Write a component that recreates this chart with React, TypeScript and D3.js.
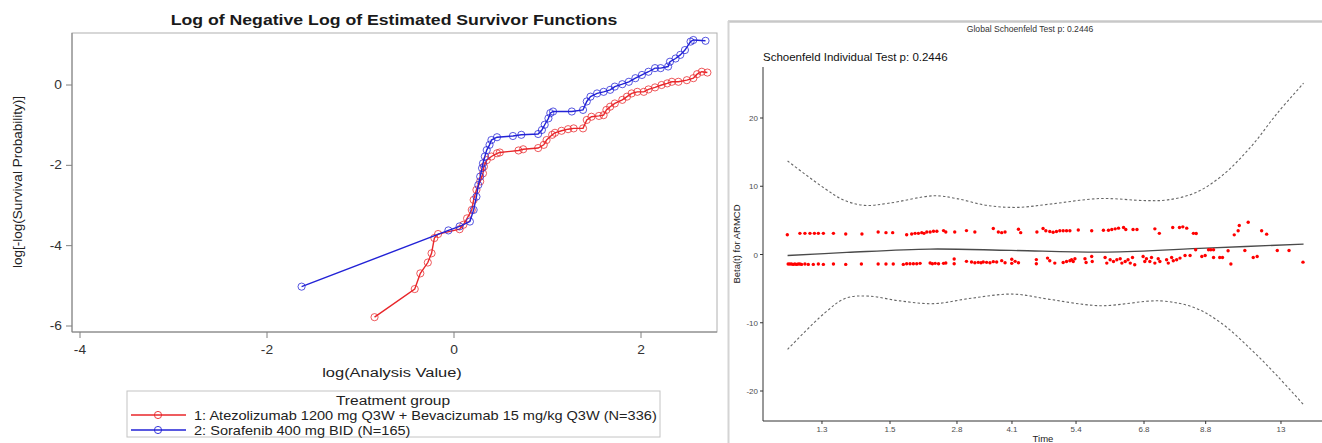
import React from "react";
import * as d3 from "d3";

// ---------- Left panel: log(-log S) vs log(time) ----------
const armLabels = [
  "1: Atezolizumab 1200 mg Q3W + Bevacizumab 15 mg/kg Q3W (N=336)",
  "2: Sorafenib 400 mg BID (N=165)",
];
const armColors = ["#e8262a", "#2222d6"];

const atezoCurve: [number, number][] = [
  [-0.85, -5.78], [-0.42, -5.08], [-0.36, -4.69], [-0.28, -4.42], [-0.24, -4.19], [-0.21, -3.81],
  [-0.17, -3.71], [0.06, -3.59], [0.1, -3.48], [0.14, -3.32], [0.19, -3.11], [0.21, -2.86],
  [0.24, -2.61], [0.28, -2.4], [0.31, -2.2], [0.32, -2.03], [0.35, -1.87], [0.4, -1.78],
  [0.46, -1.7], [0.49, -1.68], [0.69, -1.63], [0.74, -1.6], [0.9, -1.57], [0.96, -1.49],
  [0.99, -1.37], [1.05, -1.24], [1.08, -1.19], [1.15, -1.14], [1.22, -1.1], [1.28, -1.08],
  [1.38, -1.08], [1.42, -0.87], [1.47, -0.79], [1.55, -0.77], [1.6, -0.75], [1.63, -0.62],
  [1.67, -0.54], [1.72, -0.46], [1.8, -0.37], [1.85, -0.29], [1.9, -0.21], [1.96, -0.17],
  [2.03, -0.17], [2.08, -0.11], [2.15, -0.06], [2.22, 0.0], [2.28, 0.04], [2.33, 0.08],
  [2.4, 0.08], [2.49, 0.12], [2.56, 0.17], [2.6, 0.27], [2.65, 0.33], [2.71, 0.31],
];

const sorafCurve: [number, number][] = [
  [-1.63, -5.02], [-0.06, -3.62], [0.06, -3.52], [0.17, -3.4], [0.21, -3.11], [0.24, -2.78],
  [0.26, -2.49], [0.28, -2.28], [0.3, -2.07], [0.31, -1.95], [0.33, -1.78], [0.35, -1.62],
  [0.38, -1.49], [0.4, -1.37], [0.46, -1.3], [0.63, -1.27], [0.72, -1.24], [0.9, -1.22],
  [0.94, -1.12], [0.97, -0.99], [1.01, -0.83], [1.03, -0.7], [1.06, -0.66], [1.26, -0.66],
  [1.38, -0.62], [1.42, -0.41], [1.46, -0.29], [1.53, -0.21], [1.6, -0.17], [1.67, -0.12],
  [1.72, -0.04], [1.8, 0.02], [1.87, 0.08], [1.94, 0.17], [2.01, 0.25], [2.08, 0.33],
  [2.15, 0.42], [2.21, 0.42], [2.29, 0.46], [2.31, 0.58], [2.37, 0.66], [2.42, 0.75],
  [2.47, 0.87], [2.53, 1.08], [2.56, 1.12], [2.69, 1.1],
];

const leftXTicks = [-4, -2, 0, 2];
const leftYTicks = [0, -2, -4, -6];

// ---------- Right panel: Schoenfeld residuals ----------
const timeTickLabels = ["1.3", "1.5", "2.8", "4.1", "5.4", "6.8", "8.8", "13"];
const timeTickPos = [10.55, 22.72, 34.7, 44.54, 56.0, 68.16, 79.19, 92.66];
const betaTicks = [20, 10, 0, -10, -20];

const smoothFit: [number, number][] = [
  [4.4, -0.15], [15, 0.3], [29.9, 0.8], [44.4, 0.6], [61.6, 0.35], [79.2, 0.93], [96.7, 1.52],
];
const ciUpper: [number, number][] = [
  [4.4, 13.7], [11, 9.7], [14.4, 8.0], [18.1, 7.2], [22.4, 7.5], [30.6, 8.6], [34.6, 8.2],
  [40, 7.2], [45.4, 6.9], [51.5, 7.4], [60.3, 8.2], [68.4, 7.9], [72.4, 8.0], [77.2, 9.0],
  [81.9, 11.4], [87.3, 15.8], [92, 20.7], [96.7, 25.1],
];
const ciLower: [number, number][] = [
  [4.4, -13.9], [11, -8.6], [14.8, -6.4], [18.9, -6.1], [24.5, -6.8], [30.6, -7.2], [37.3, -6.4],
  [44.7, -5.8], [51.5, -6.6], [60.3, -7.5], [71.1, -6.8], [77.2, -7.8], [81.9, -10.0],
  [87.3, -13.9], [92, -17.8], [96.7, -22.0],
];

const residualsUpper: [number, number][] = [
  [4.35, 2.9], [6.6, 3.1], [7.5, 3.1], [8.4, 3.1], [9.2, 3.1], [9.9, 3.1], [10.8, 3.1], [12.6, 3.1],
  [14.8, 3.0], [17.7, 3.0], [20.6, 3.3], [22.0, 3.2], [23.2, 3.2], [25.7, 2.9], [26.6, 3.0],
  [27.2, 3.1], [27.8, 3.1], [28.4, 3.2], [28.8, 3.1], [29.3, 3.3], [29.9, 3.3], [30.5, 3.4],
  [31.1, 3.4], [32.3, 3.5], [32.7, 3.3], [34.3, 3.3], [36.4, 3.5], [37.9, 3.3], [41.2, 3.8],
  [42.1, 3.3], [42.7, 3.2], [43.3, 3.3], [45.7, 3.7], [46.1, 3.2], [49.0, 3.3], [50.1, 3.8],
  [50.6, 3.47], [51.3, 3.37], [51.9, 3.27], [52.5, 3.37], [53.1, 3.47], [53.7, 3.47], [54.3, 3.47],
  [54.9, 3.47], [56.4, 3.6], [58.8, 3.47], [60.9, 3.55], [61.8, 3.55], [62.4, 3.66], [63.0, 3.76],
  [63.6, 3.86], [64.5, 3.95], [64.9, 3.66], [66.2, 3.66], [66.9, 3.66], [70.1, 3.76], [70.9, 3.1],
  [73.3, 3.95], [74.5, 3.95], [75.1, 4.05], [75.8, 3.86], [77.0, 3.1], [77.5, 3.07], [84.3, 2.88],
  [85.0, 3.47], [85.2, 4.24], [86.8, 4.73], [89.2, 3.47], [90.1, 2.98],
];
const residualsLower: [number, number][] = [
  [4.5, -1.4], [4.8, -1.4], [5.1, -1.4], [5.4, -1.45], [5.7, -1.4], [6.0, -1.45], [6.3, -1.4],
  [6.6, -1.4], [6.9, -1.45], [7.5, -1.4], [8.1, -1.45], [9.0, -1.45], [9.9, -1.4], [10.8, -1.45],
  [12.6, -1.4], [14.8, -1.45], [17.6, -1.4], [20.6, -1.4], [22.0, -1.4], [23.3, -1.4],
  [25.1, -1.45], [25.7, -1.35], [26.3, -1.35], [26.9, -1.35], [27.5, -1.35], [28.1, -1.3],
  [29.9, -1.25], [30.3, -1.35], [30.8, -1.3], [31.4, -1.35], [32.3, -1.3], [32.7, -1.25],
  [34.2, -0.65], [34.2, -1.35], [36.4, -1.0], [37.3, -1.1], [37.9, -1.2], [38.5, -1.15],
  [39.0, -1.2], [39.4, -1.1], [40.0, -1.15], [40.6, -1.2], [41.2, -1.05], [41.8, -1.1],
  [42.7, -0.9], [43.3, -1.2], [44.5, -0.7], [44.5, -1.3], [45.1, -1.0], [45.7, -1.2],
  [48.9, -0.75], [48.9, -1.35],
  [50.9, -0.53], [51.3, -0.92], [52.2, -1.26], [53.7, -1.17], [54.3, -1.02], [54.9, -0.92],
  [55.2, -0.77], [55.5, -1.02], [55.8, -0.63], [57.6, -0.63], [57.8, -1.17], [58.8, -0.29],
  [58.9, -1.02], [61.2, -0.44], [61.5, -1.26], [62.1, -0.77], [62.7, -1.02], [63.3, -0.77],
  [63.9, -0.63], [64.2, -1.26], [64.8, -1.02], [65.3, -0.77], [65.7, -1.26], [66.1, -0.44],
  [66.5, -1.51], [68.0, -0.29], [68.3, -1.02], [68.6, -0.63], [69.2, -1.02], [69.5, -0.44],
  [70.1, -1.26], [70.7, -0.63], [71.0, -1.02], [72.2, -0.77], [72.5, -1.26], [73.1, -0.44],
  [73.4, -0.92], [74.0, -0.77], [74.6, -0.53], [75.5, -0.14], [76.4, -0.14], [77.4, 0.69],
  [78.5, -0.29], [79.1, -0.14], [79.7, 0.69], [80.1, 0.69], [80.6, 0.69], [80.6, -0.44],
  [81.7, -0.44], [82.2, -0.44], [83.2, 0.54], [83.7, -1.4], [86.2, 0.59], [87.7, -0.44],
  [88.4, -0.29], [92.0, 0.59], [94.1, 0.59], [96.6, -1.12],
];

const FONT = "'Liberation Sans', Arial, sans-serif";

// horizontally stretched text (the reference panel is stretched sideways)
function WideText(props: {
  x: number;
  y: number;
  sx: number;
  anchor?: "start" | "middle" | "end";
  size: number;
  weight?: string;
  fill?: string;
  children: React.ReactNode;
}) {
  const { x, y, sx, anchor = "start", size, weight = "normal", fill = "#222", children } = props;
  return (
    <text
      transform={`translate(${x},${y}) scale(${sx},1)`}
      textAnchor={anchor}
      fontSize={size}
      fontWeight={weight}
      fill={fill}
    >
      {children}
    </text>
  );
}

const fmt = (t: number) => (t < 0 ? "-" + Math.abs(t) : String(t));

export default function App() {
  // left scales
  const lx = d3.scaleLinear().domain([-4, 2]).range([80, 641]);
  const ly = d3.scaleLinear().domain([0, -6]).range([85, 326]);
  const frame = { x0: 72, x1: 717, y0: 33, y1: 332 };
  const lLine = d3.line<[number, number]>().x((d) => lx(d[0])).y((d) => ly(d[1]));

  // right scales
  const rx = d3.scaleLinear().domain([0, 100]).range([763, 1322]);
  const ry = d3.scaleLinear().domain([20, -20]).range([118, 391]);
  const rPlot = { x0: 763, x1: 1322, y0: 67, y1: 421 };
  const smooth = d3
    .line<[number, number]>()
    .x((d) => rx(d[0]))
    .y((d) => ry(d[1]))
    .curve(d3.curveCatmullRom.alpha(0.5));

  const curves = [atezoCurve, sorafCurve];

  return (
    <svg
      width={1322}
      height={443}
      style={{ position: "absolute", left: 0, top: 0, background: "#fff" }}
      fontFamily={FONT}
    >
      {/* ============ LEFT PANEL ============ */}
      <WideText x={394} y={24.5} sx={1.22} anchor="middle" size={14.5} weight="bold" fill="#1a1a1a">
        Log of Negative Log of Estimated Survivor Functions
      </WideText>
      <rect
        x={frame.x0}
        y={frame.y0}
        width={frame.x1 - frame.x0}
        height={frame.y1 - frame.y0}
        fill="none"
        stroke="#b0b0b0"
        strokeWidth={1}
      />
      <line x1={frame.x0} x2={frame.x0} y1={frame.y0} y2={frame.y1} stroke="#808080" />
      <line x1={frame.x0} x2={frame.x1} y1={frame.y1} y2={frame.y1} stroke="#808080" />
      {leftXTicks.map((t) => (
        <g key={"lx" + t}>
          <line x1={lx(t)} x2={lx(t)} y1={frame.y1} y2={frame.y1 + 6} stroke="#808080" />
          <WideText x={lx(t)} y={354} sx={1.15} anchor="middle" size={12} fill="#333">
            {fmt(t)}
          </WideText>
        </g>
      ))}
      {leftYTicks.map((t) => (
        <g key={"ly" + t}>
          <line x1={frame.x0 - 6} x2={frame.x0} y1={ly(t)} y2={ly(t)} stroke="#808080" />
          <WideText x={62} y={ly(t) + 4} sx={1.15} anchor="end" size={12} fill="#333">
            {fmt(t)}
          </WideText>
        </g>
      ))}
      <WideText x={392} y={377} sx={1.22} anchor="middle" size={13.5}>
        log(Analysis Value)
      </WideText>
      <text
        transform={`translate(22,182) rotate(-90)`}
        textAnchor="middle"
        fontSize={13.5}
        fill="#222"
      >
        log[-log(Survival Probability)]
      </text>

      {curves.map((c, i) => (
        <g key={"curve" + i}>
          <path d={lLine(c) || ""} fill="none" stroke={armColors[i]} strokeWidth={1.4} />
          {c.map((d, j) => (
            <circle
              key={j}
              cx={lx(d[0])}
              cy={ly(d[1])}
              r={3.6}
              fill="none"
              stroke={armColors[i]}
              strokeWidth={0.9}
              strokeOpacity={0.85}
            />
          ))}
        </g>
      ))}

      {/* legend */}
      <rect x={127} y={391} width={533} height={46} fill="#fff" stroke="#c4c4c4" />
      <WideText x={393} y={405} sx={1.15} anchor="middle" size={13.5}>
        Treatment group
      </WideText>
      {armLabels.map((lab, i) => {
        const yy = 415 + i * 15;
        return (
          <g key={"leg" + i}>
            <line x1={131} x2={186} y1={yy} y2={yy} stroke={armColors[i]} strokeWidth={1.4} />
            <circle cx={158} cy={yy} r={3.6} fill="none" stroke={armColors[i]} strokeWidth={0.9} />
            <WideText x={194} y={yy + 4.5} sx={1.12} size={13}>
              {lab}
            </WideText>
          </g>
        );
      })}

      {/* ============ RIGHT PANEL ============ */}
      <line x1={728} x2={1322} y1={21.5} y2={21.5} stroke="#c8c8c8" strokeWidth={2.5} />
      <line x1={728.5} x2={728.5} y1={21} y2={443} stroke="#d4d4d4" strokeWidth={2} />
      <text x={1030} y={32} textAnchor="middle" fontSize={8.6} fill="#333">
        Global Schoenfeld Test p: 0.2446
      </text>
      <text x={763} y={61} fontSize={11.5} fill="#111">
        Schoenfeld Individual Test p: 0.2446
      </text>

      <path d={smooth(ciUpper) || ""} fill="none" stroke="#666" strokeWidth={1.1} strokeDasharray="2.5,2.2" />
      <path d={smooth(ciLower) || ""} fill="none" stroke="#666" strokeWidth={1.1} strokeDasharray="2.5,2.2" />
      <path d={smooth(smoothFit) || ""} fill="none" stroke="#4a4a4a" strokeWidth={1.3} />
      {residualsUpper.concat(residualsLower).map((d, i) => (
        <circle key={"r" + i} cx={rx(d[0])} cy={ry(d[1])} r={1.7} fill="#ff0000" />
      ))}

      <line x1={rPlot.x0} x2={rPlot.x0} y1={rPlot.y0} y2={rPlot.y1} stroke="#333" strokeWidth={1} />
      <line x1={rPlot.x0} x2={rPlot.x1} y1={rPlot.y1} y2={rPlot.y1} stroke="#333" strokeWidth={1} />
      {betaTicks.map((t) => (
        <g key={"by" + t}>
          <line x1={rPlot.x0 - 3} x2={rPlot.x0} y1={ry(t)} y2={ry(t)} stroke="#333" />
          <text x={758} y={ry(t) + 3} textAnchor="end" fontSize={8} fill="#4d4d4d">
            {fmt(t)}
          </text>
        </g>
      ))}
      {timeTickLabels.map((lab, i) => (
        <g key={"tx" + i}>
          <line x1={rx(timeTickPos[i])} x2={rx(timeTickPos[i])} y1={rPlot.y1} y2={rPlot.y1 + 3} stroke="#333" />
          <text x={rx(timeTickPos[i])} y={432} textAnchor="middle" fontSize={8} fill="#4d4d4d">
            {lab}
          </text>
        </g>
      ))}
      <text x={1043} y={442} textAnchor="middle" fontSize={9.5} fill="#222">
        Time
      </text>
      <text transform={`translate(740,244) rotate(-90)`} textAnchor="middle" fontSize={9.5} fill="#222">
        Beta(t) for ARMCD
      </text>
    </svg>
  );
}
